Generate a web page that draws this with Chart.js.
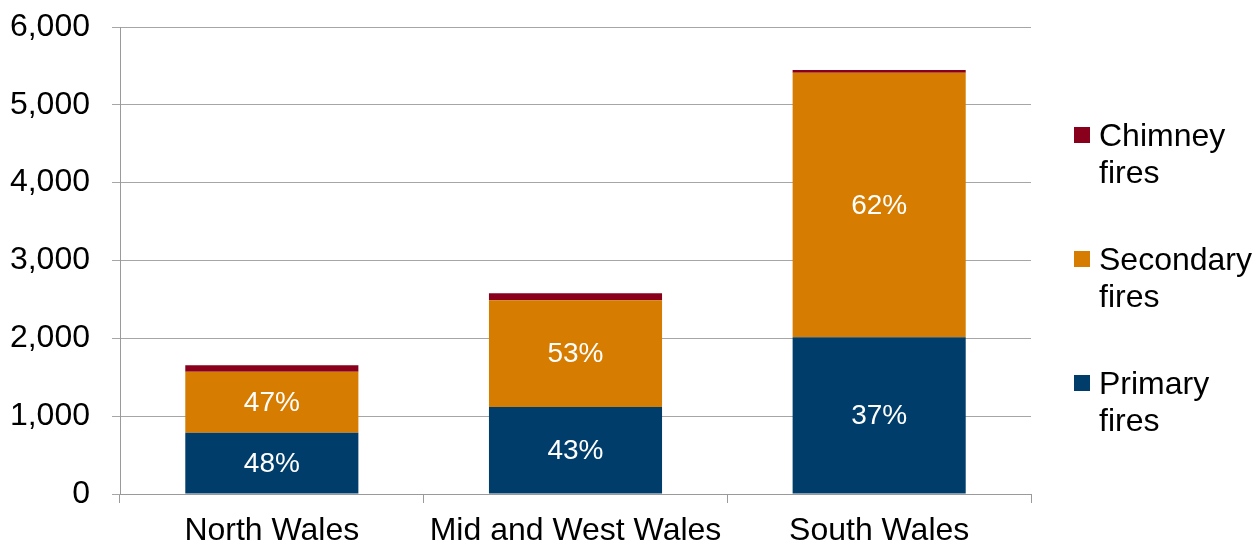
<!DOCTYPE html>
<html>
<head>
<meta charset="utf-8">
<script src="https://cdn.jsdelivr.net/npm/chart.js@4/dist/chart.umd.min.js"></script>
<style>
  html, body { margin: 0; padding: 0; background: #ffffff; }
  #wrap { width: 1257px; height: 544px; position: relative; }
</style>
</head>
<body>
<div id="wrap"><canvas id="c" width="1257" height="544"></canvas></div>
<script>
// ---- Data ----
const categories = ['North Wales', 'Mid and West Wales', 'South Wales'];
const primaryFires = [788, 1118, 2013];
const secondaryFires = [783, 1371, 3400];
const chimneyFires = [83, 90, 35];
const seriesNames = ['Primary fires', 'Secondary fires', 'Chimney fires'];
const legendLines = [['Primary', 'fires'], ['Secondary', 'fires'], ['Chimney', 'fires']];
const yTickValues = [0, 1000, 2000, 3000, 4000, 5000, 6000];

const colors = ['#003d6b', '#d67c00', '#88001b'];
const FONT = '"Liberation Sans", Arial, sans-serif';

const totals = categories.map((_, i) => primaryFires[i] + secondaryFires[i] + chimneyFires[i]);

// percentage labels inside primary & secondary segments
const pctLabelPlugin = {
  id: 'pctLabels',
  afterDatasetsDraw(chart) {
    const ctx = chart.ctx;
    ctx.save();
    ctx.fillStyle = '#ffffff';
    ctx.font = '28px ' + FONT;
    ctx.textAlign = 'center';
    ctx.textBaseline = 'middle';
    [0, 1].forEach(di => {
      const meta = chart.getDatasetMeta(di);
      const data = chart.data.datasets[di].data;
      meta.data.forEach((bar, i) => {
        const p = bar.getProps(['x', 'y', 'base'], true);
        const pct = Math.round(data[i] / totals[i] * 100) + '%';
        ctx.fillText(pct, p.x, (p.y + p.base) / 2 + 1);
      });
    });
    ctx.restore();
  }
};

// legend with wrapped labels on the right
const wrapLegendPlugin = {
  id: 'wrapLegend',
  afterDraw(chart) {
    const ctx = chart.ctx;
    ctx.save();
    ctx.font = '32px ' + FONT;
    ctx.textBaseline = 'middle';
    ctx.textAlign = 'left';
    const order = [2, 1, 0];
    const x0 = 1074, firstY = 136, gap = 124, lineH = 37;
    order.forEach((di, k) => {
      const y = firstY + k * gap;
      ctx.fillStyle = chart.data.datasets[di].backgroundColor;
      ctx.fillRect(x0, y - 9, 16, 16);
      ctx.fillStyle = '#000000';
      legendLines[di].forEach((ln, j) => ctx.fillText(ln, x0 + 25, y + j * lineH + 1));
    });
    ctx.restore();
  }
};

new Chart(document.getElementById('c'), {
  type: 'bar',
  data: {
    labels: categories,
    datasets: [
      { label: seriesNames[0], data: primaryFires, backgroundColor: colors[0] },
      { label: seriesNames[1], data: secondaryFires, backgroundColor: colors[1] },
      { label: seriesNames[2], data: chimneyFires, backgroundColor: colors[2] }
    ]
  },
  options: {
    responsive: false,
    animation: false,
    devicePixelRatio: 1,
    layout: { padding: { top: 27, right: 226, bottom: 0, left: 0 } },
    datasets: { bar: { barPercentage: 0.57, categoryPercentage: 1.0, borderWidth: 0 } },
    plugins: { legend: { display: false }, tooltip: { enabled: false } },
    scales: {
      x: {
        stacked: true,
        offset: true,
        grid: { offset: true, drawOnChartArea: false, drawTicks: true, tickLength: 9, color: '#9a9a9a', lineWidth: 1 },
        border: { display: true, color: '#9a9a9a', width: 1 },
        ticks: { color: '#000000', font: { family: FONT, size: 32 }, padding: 9, maxRotation: 0 },
        afterFit(scale) { scale.height = 50; scale.paddingLeft = 0; scale.paddingRight = 0; }
      },
      y: {
        stacked: true,
        min: 0,
        max: 6000,
        afterBuildTicks(scale) { scale.ticks = yTickValues.map(v => ({ value: v })); },
        grid: { color: '#a6a6a6', lineWidth: 1, drawTicks: true, tickLength: 8 },
        border: { display: true, color: '#9a9a9a', width: 1 },
        ticks: {
          color: '#000000',
          font: { family: FONT, size: 32 },
          padding: 22,
          callback: v => Number(v).toLocaleString('en-US')
        },
        afterFit(scale) { scale.width = 120; scale.paddingTop = 0; scale.paddingBottom = 0; }
      }
    }
  },
  plugins: [pctLabelPlugin, wrapLegendPlugin]
});
</script>
</body>
</html>
